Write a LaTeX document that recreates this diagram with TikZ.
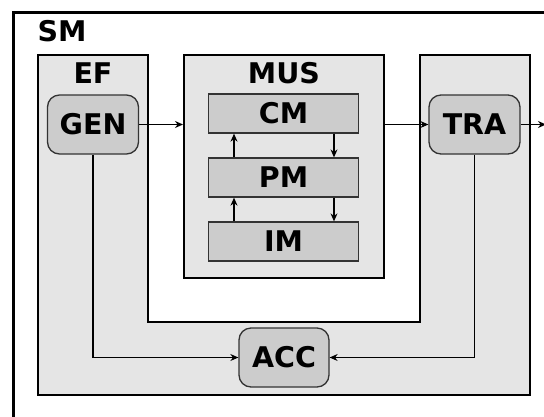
\documentclass[tikz,border=0pt]{standalone}
\usepackage{fontspec}
\setmainfont{DejaVu Sans}
\usetikzlibrary{arrows.meta}
\definecolor{bggray}{HTML}{E5E5E5}
\definecolor{boxgray}{HTML}{CCCCCC}
\tikzset{
  lbl/.style={font=\fontsize{28.5}{29}\selectfont\bfseries},
  unit/.style={lbl, draw=black!80, line width=1.3pt, fill=boxgray, inner sep=0pt},
  mod/.style={unit, minimum width=150, minimum height=39},
  blk/.style={unit, rounded corners=12pt, minimum width=91, minimum height=59},
  conn/.style={line width=1.1pt, -{Stealth[length=8pt,width=7pt]}}
}
\begin{document}
\begin{tikzpicture}[x=1pt,y=-1pt]
\useasboundingbox (0,0) rectangle (544,416);
\fill[white] (0,0) rectangle (544,416);
% system frame, cut at the right and bottom
\draw[line width=3pt] (13,440) -- (13,12) -- (570,12);
\node[lbl, anchor=west] (sm) at (34,31) {SM};
% EF area round the MUS block
\draw[fill=bggray, line width=2pt] (38,55) -- (148,55) -- (148,322) -- (420,322) -- (420,55) -- (530,55) -- (530,395) -- (38,395) -- cycle;
\node[lbl] (ef) at (93,73) {EF};
\node[draw, line width=2pt, fill=bggray, minimum width=200, minimum height=223, inner sep=0pt] (mus) at (284,166.5) {};
\node[lbl] (muslbl) at (284,73) {MUS};
% modules
\node[mod] (cm) at (283.5,113.5) {CM};
\node[mod] (pm) at (283.5,177.5) {PM};
\node[mod] (im) at (283.5,241.5) {IM};
\draw[conn] ([xshift=-49.5]pm.north) -- ([xshift=-49.5]cm.south); \draw[conn] ([xshift=50.5]cm.south) -- ([xshift=50.5]pm.north);
\draw[conn] ([xshift=-49.5]im.north) -- ([xshift=-49.5]pm.south); \draw[conn] ([xshift=50.5]pm.south) -- ([xshift=50.5]im.north);
% blocks
\node[blk] (gen) at (93,124.5) {GEN};
\node[blk] (tra) at (474.5,124.5) {TRA};
\node[blk, minimum width=90] (acc) at (284,357.5) {ACC};
\coordinate (out) at (546,124.5);
\draw[conn] (gen.east) -- (gen.east -| mus.west);
\draw[conn] (gen.east -| mus.east) -- (tra.west);
\draw[conn] (tra.east) -- (out);
\draw[conn] (gen.south) |- (acc.west);
\draw[conn] (tra.south) |- (acc.east);
\end{tikzpicture}
\end{document}
